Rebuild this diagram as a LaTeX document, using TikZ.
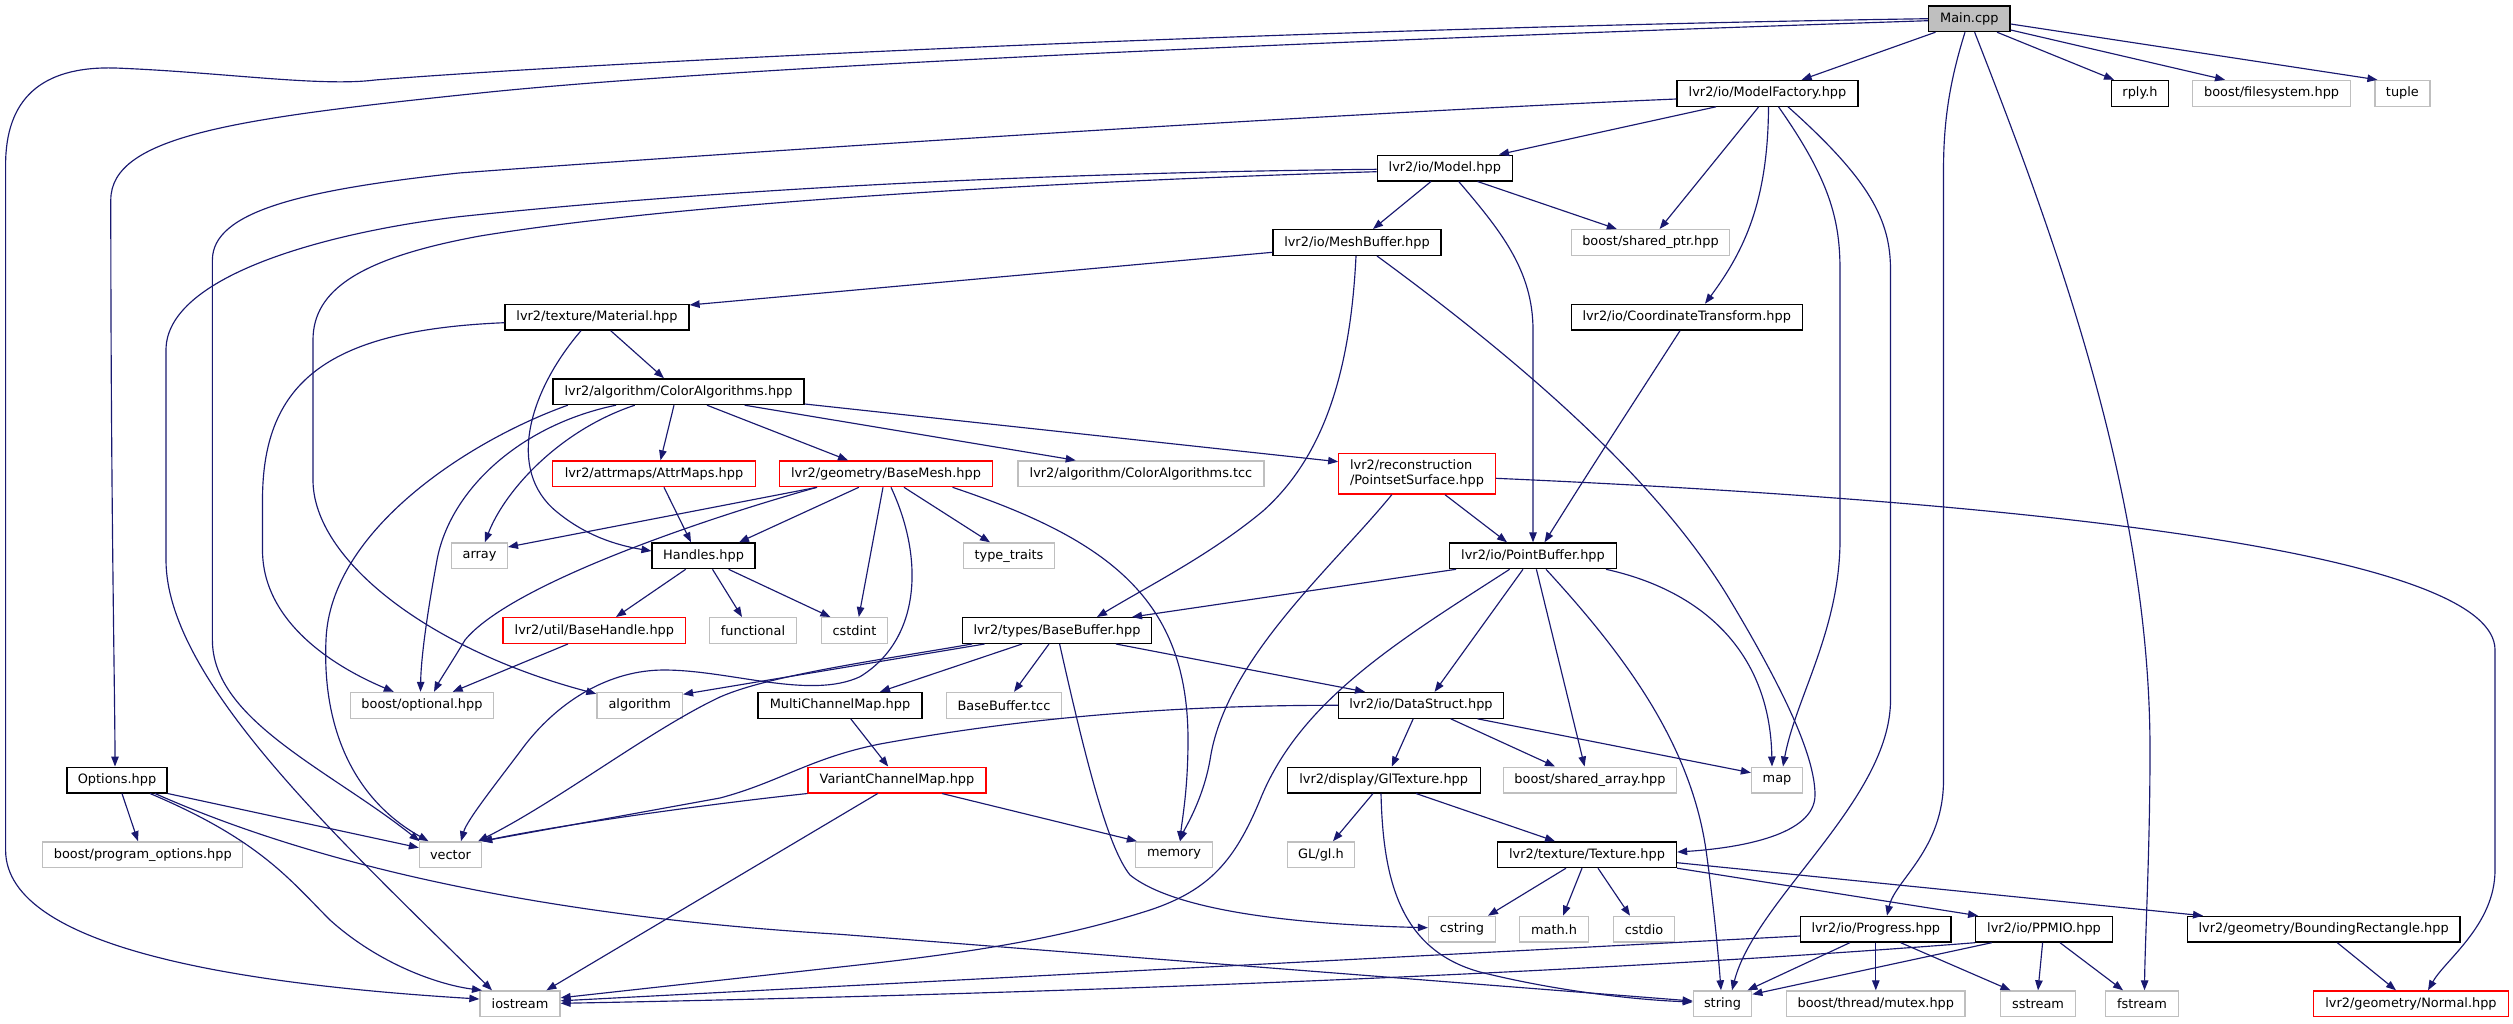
\documentclass[tikz,border=0pt]{standalone}
\usepackage{fontspec}
\setmainfont{DejaVu Sans}
\usetikzlibrary{arrows.meta}
\definecolor{edgeblue}{HTML}{191970}
\definecolor{greyborder}{HTML}{BFBFBF}
\definecolor{mainfill}{HTML}{BFBFBF}
\begin{document}
\begin{tikzpicture}[x=1pt,y=-1pt,
  box/.style={draw=black, line width=1.3pt, fill=white, rectangle, inner sep=0pt,
    minimum height=25.7pt, font=\fontsize{12.9pt}{15pt}\selectfont, text=black},
  ext/.style={box, draw=greyborder},
  trunc/.style={box, draw=red},
  mainbox/.style={box, fill=mainfill},
  dep/.style={draw=edgeblue, line width=1.15pt, -{Triangle[length=10pt,width=7.5pt]}}
]
\fill[white] (0,0) rectangle (2513,1023);
\useasboundingbox (0,0) rectangle (2513,1023);

% ---- nodes ----
\node[mainbox, minimum width=81.5pt] (main) at (1969.3,18.7) {Main.cpp};
\node[box, minimum width=181pt] (mf) at (1767.5,93.3) {lvr2/io/ModelFactory.hpp};
\node[box, minimum width=57pt] (rply) at (2140,93.3) {rply.h};
\node[ext, minimum width=158pt] (fs) at (2271.6,93.3) {boost/filesystem.hpp};
\node[ext, minimum width=55pt] (tuple) at (2402.4,93.3) {tuple};
\node[box, minimum width=135pt] (model) at (1444.8,168) {lvr2/io/Model.hpp};
\node[box, minimum width=168pt] (meshbuf) at (1357,242.5) {lvr2/io/MeshBuffer.hpp};
\node[ext, minimum width=158.6pt] (sptr) at (1650.5,242.5) {boost/shared\_ptr.hpp};
\node[box, minimum width=184pt] (material) at (597,317.2) {lvr2/texture/Material.hpp};
\node[box, minimum width=231pt] (ct) at (1686.7,317.2) {lvr2/io/CoordinateTransform.hpp};
\node[box, minimum width=251pt] (ca) at (678.6,391.7) {lvr2/algorithm/ColorAlgorithms.hpp};
\node[trunc, minimum width=202.5pt] (attr) at (654,473.8) {lvr2/attrmaps/AttrMaps.hpp};
\node[trunc, minimum width=213pt] (basemesh) at (886,473.8) {lvr2/geometry/BaseMesh.hpp};
\node[ext, minimum width=246pt] (catcc) at (1141,473.8) {lvr2/algorithm/ColorAlgorithms.tcc};
\node[trunc, minimum width=156.4pt, minimum height=40.7pt, align=left] (pss) at (1417,473.7) {lvr2/reconstruction\\/PointsetSurface.hpp};
\node[ext, minimum width=55.7pt] (array) at (479.5,555.8) {array};
\node[box, minimum width=103pt] (handles) at (703.6,555.8) {Handles.hpp};
\node[ext, minimum width=91.6pt] (typetraits) at (1009,555.8) {type\_traits};
\node[box, minimum width=166.6pt] (pointbuf) at (1533,555.8) {lvr2/io/PointBuffer.hpp};
\node[trunc, minimum width=182.7pt] (basehandle) at (594.4,630.5) {lvr2/util/BaseHandle.hpp};
\node[ext, minimum width=87.3pt] (functional) at (753,630.5) {functional};
\node[ext, minimum width=66.5pt] (cstdint) at (854.5,630.5) {cstdint};
\node[box, minimum width=189pt] (basebuf) at (1057,630.5) {lvr2/types/BaseBuffer.hpp};
\node[ext, minimum width=142.5pt] (optional) at (422,705.3) {boost/optional.hpp};
\node[ext, minimum width=85.5pt] (algorithm) at (639.7,705.3) {algorithm};
\node[box, minimum width=164pt] (mcm) at (840,705.3) {MultiChannelMap.hpp};
\node[ext, minimum width=114.6pt] (bbtcc) at (1004,705.3) {BaseBuffer.tcc};
\node[box, minimum width=164.5pt] (datastruct) at (1421,705.3) {lvr2/io/DataStruct.hpp};
\node[box, minimum width=100pt] (options) at (117,780) {Options.hpp};
\node[trunc, minimum width=177.8pt] (vcm) at (897,780) {VariantChannelMap.hpp};
\node[box, minimum width=193pt] (gltex) at (1383.7,780) {lvr2/display/GlTexture.hpp};
\node[ext, minimum width=173pt] (sarray) at (1590,780) {boost/shared\_array.hpp};
\node[ext, minimum width=51pt] (map) at (1777,780) {map};
\node[ext, minimum width=200pt] (progopt) at (142.8,854.7) {boost/program\_options.hpp};
\node[ext, minimum width=62pt] (vector) at (450.5,854.7) {vector};
\node[ext, minimum width=77pt] (memory) at (1174,854.7) {memory};
\node[ext, minimum width=67pt] (glh) at (1321,854.7) {GL/gl.h};
\node[box, minimum width=179pt] (texture) at (1587,854.7) {lvr2/texture/Texture.hpp};
\node[ext, minimum width=67pt] (cstring) at (1462,929.2) {cstring};
\node[ext, minimum width=68.6pt] (mathh) at (1554,929.2) {math.h};
\node[ext, minimum width=61.6pt] (cstdio) at (1644,929.2) {cstdio};
\node[box, minimum width=150.5pt] (progress) at (1875.8,929.2) {lvr2/io/Progress.hpp};
\node[box, minimum width=136.6pt] (ppmio) at (2044,929.2) {lvr2/io/PPMIO.hpp};
\node[box, minimum width=272.7pt] (bbox) at (2323.6,929.2) {lvr2/geometry/BoundingRectangle.hpp};
\node[ext, minimum width=80pt] (iostream) at (520,1003.8) {iostream};
\node[ext, minimum width=58.4pt] (string) at (1722.5,1003.8) {string};
\node[ext, minimum width=178.4pt] (mutex) at (1875.8,1003.8) {boost/thread/mutex.hpp};
\node[ext, minimum width=74.5pt] (sstream) at (2038,1003.8) {sstream};
\node[ext, minimum width=72.9pt] (fstream) at (2142,1003.8) {fstream};
\node[trunc, minimum width=195pt] (normal) at (2411,1003.8) {lvr2/geometry/Normal.hpp};

% ---- Main.cpp ----
\draw[dep] ([xshift=-33.8pt]main.south) -- ([xshift=34.1pt]mf.north);
\draw[dep] ([xshift=27.7pt]main.south) -- ([xshift=-26pt]rply.north);
\draw[dep] ([yshift=-11.3pt]main.east) -- ([xshift=-46.6pt]fs.north);
\draw[dep] ([yshift=-5.3pt]main.east) -- ([xshift=-25pt]tuple.north);
\draw[dep] ([yshift=-2pt]main.west) .. controls (1200,45) and (700,70) .. (480,93)
  .. controls (240,118) and (110.8,135) .. (110.8,200) .. controls (110.8,500) and (115,700) .. ([xshift=-2pt]options.north);
\draw[dep] (main.west) .. controls (1300,28) and (600,62) .. (375,80)
  .. controls (320,87) and (220,72) .. (115,68) .. controls (40,66) and (5.6,100) .. (5.6,165)
  -- (5.6,850) .. controls (5.6,950) and (250,985) .. ([yshift=4.8pt]iostream.west);
\draw[dep] ([xshift=-4.3pt]main.south) .. controls (1950,80) and (1943.5,120) .. (1943.5,170)
  -- (1943.5,780) .. controls (1943.5,850) and (1895,880) .. ([xshift=11.2pt]progress.north);
\draw[dep] ([xshift=5.3pt]main.south) .. controls (2060,250) and (2150,500) .. (2150,750)
  .. controls (2150,850) and (2145,940) .. ([xshift=2.5pt]fstream.north);

% ---- ModelFactory ----
\draw[dep] ([xshift=-51.5pt]mf.south) -- ([xshift=54.2pt]model.north);
\draw[dep] ([yshift=-5.7pt]mf.west) .. controls (1300,115) and (700,155) .. (459,173)
  .. controls (300,190) and (212.4,212) .. (212.4,260) -- (212.4,640)
  .. controls (212.4,720) and (330,770) .. ([xshift=-31pt]vector.north);
\draw[dep] ([xshift=-8.8pt]mf.south) -- ([xshift=9.1pt]sptr.north);
\draw[dep] ([xshift=1pt]mf.south) .. controls (1768,200) and (1745,250) .. ([xshift=18.3pt]ct.north);
\draw[dep] ([xshift=11pt]mf.south) .. controls (1830,180) and (1840,220) .. (1840,270)
  -- (1840,540) .. controls (1840,630) and (1795,700) .. ([xshift=6pt]map.north);
\draw[dep] ([xshift=20.5pt]mf.south) .. controls (1870,180) and (1890.5,220) .. (1890.5,270)
  -- (1890.5,700) .. controls (1890.5,800) and (1755,900) .. ([xshift=9.5pt]string.north);

% ---- Model ----
\draw[dep] ([xshift=-13.8pt]model.south) -- ([xshift=16pt]meshbuf.north);
\draw[dep] ([xshift=32.7pt]model.south) -- ([xshift=-33.7pt]sptr.north);
\draw[dep] ([xshift=13.9pt]model.south) .. controls (1500,230) and (1533,270) .. (1533,330) -- (pointbuf.north);
\draw[dep] ([yshift=-1.3pt]model.west) .. controls (1100,172) and (760,185) .. (459,216.7)
  .. controls (330,232) and (166,275) .. (166,350) -- (166,560)
  .. controls (166,680) and (340,840) .. ([xshift=-28pt]iostream.north);
\draw[dep] ([yshift=-3.7pt]model.west) .. controls (1100,180) and (700,200) .. (480,236)
  .. controls (360,258) and (313,290) .. (313,340) -- (313,480)
  .. controls (313,560) and (430,650) .. ([yshift=-2pt]algorithm.north west);

% ---- MeshBuffer ----
\draw[dep] ([yshift=-9.8pt]meshbuf.west) -- ([yshift=12.2pt]material.east);
\draw[dep] ([xshift=-1pt]meshbuf.south) .. controls (1350,380) and (1320,460) .. (1263,511)
  .. controls (1210,555) and (1150,585) .. ([xshift=40pt]basebuf.north);
\draw[dep] ([xshift=20pt]meshbuf.south) .. controls (1560,390) and (1670,500) .. (1730,600)
  .. controls (1790,700) and (1815,760) .. (1815,795) .. controls (1815,835) and (1740,848) .. ([yshift=2.7pt]texture.east);

% ---- Material ----
\draw[dep] ([xshift=13.7pt]material.south) -- ([xshift=-14.6pt]ca.north);
\draw[dep] ([xshift=-16pt]material.south) .. controls (530,390) and (505,470) .. (557,512)
  .. controls (585,535) and (615,545) .. ([yshift=4.8pt]handles.west);
\draw[dep] ([yshift=-5.5pt]material.west) .. controls (330,330) and (262.5,380) .. (262.5,500)
  -- (262.5,550) .. controls (262.5,620) and (330,665) .. ([xshift=-28.2pt]optional.north);

% ---- ColorAlgorithms ----
\draw[dep] ([xshift=-110.8pt]ca.south) .. controls (470,440) and (330,530) .. (326,640)
  .. controls (322,730) and (355,800) .. ([xshift=-22pt]vector.north);
\draw[dep] ([xshift=-62.6pt]ca.south) .. controls (520,425) and (450,490) .. (437,560)
  .. controls (426,620) and (421,660) .. ([xshift=-1.5pt]optional.north);
\draw[dep] ([xshift=-43.8pt]ca.south) .. controls (560,430) and (505,490) .. ([xshift=5.3pt]array.north);
\draw[dep] ([xshift=-4.6pt]ca.south) -- ([xshift=6.5pt]attr.north);
\draw[dep] ([xshift=28.4pt]ca.south) -- ([xshift=-38pt]basemesh.north);
\draw[dep] ([xshift=66pt]ca.south) -- ([xshift=-65.3pt]catcc.north);
\draw[dep] ([yshift=-12.3pt]ca.east) -- ([yshift=12pt]pss.west);

% ---- BaseMesh ----
\draw[dep] ([xshift=-69pt]basemesh.south) -- ([yshift=8.8pt]array.east);
\draw[dep] ([xshift=-69pt]basemesh.south) .. controls (700,520) and (510,585) .. (465,640)
  .. controls (450,665) and (440,680) .. ([xshift=12pt]optional.north);
\draw[dep] ([xshift=-27.2pt]basemesh.south) -- ([xshift=35.4pt]handles.north);
\draw[dep] ([xshift=-3pt]basemesh.south) -- ([xshift=4.3pt]cstdint.north);
\draw[dep] ([xshift=5pt]basemesh.south) .. controls (925,560) and (920,640) .. (860,676.7)
  .. controls (810,700) and (730,670) .. (664,670) .. controls (610,670) and (560,700) .. (525,745)
  .. controls (495,785) and (467,820) .. ([xshift=10.5pt]vector.north);
\draw[dep] ([xshift=18pt]basemesh.south) -- ([xshift=-19pt]typetraits.north);
\draw[dep] ([xshift=66.5pt]basemesh.south) .. controls (1110,540) and (1188,600) .. (1188,740)
  .. controls (1188,790) and (1182,820) .. ([xshift=6pt]memory.north);

% ---- AttrMaps / Handles / BaseHandle ----
\draw[dep] ([xshift=10pt]attr.south) -- ([xshift=-12.6pt]handles.north);
\draw[dep] ([xshift=-17.9pt]handles.south) -- ([xshift=21.6pt]basehandle.north);
\draw[dep] ([xshift=8.9pt]handles.south) -- ([xshift=-11pt]functional.north);
\draw[dep] ([xshift=25pt]handles.south) -- ([xshift=-24.1pt]cstdint.north);
\draw[dep] ([xshift=-26.5pt]basehandle.south) -- ([xshift=30.7pt]optional.north);

% ---- PointsetSurface ----
\draw[dep] ([xshift=28pt]pss.south) -- ([xshift=-26pt]pointbuf.north);
\draw[dep] ([xshift=-25.2pt]pss.south) .. controls (1330,570) and (1225,660) .. (1210,760)
  .. controls (1203,800) and (1184,830) .. ([xshift=6pt]memory.north);
\draw[dep] ([yshift=-4.6pt]pss.east) .. controls (2100,505) and (2495,560) .. (2495,650)
  -- (2495,870) .. controls (2495,925) and (2445,960) .. ([xshift=17pt]normal.north);

% ---- CoordinateTransform ----
\draw[dep] ([xshift=-6.7pt]ct.south) .. controls (1590,470) .. ([xshift=11.5pt]pointbuf.north);

% ---- PointBuffer ----
\draw[dep] ([xshift=-77pt]pointbuf.south) -- ([xshift=75pt]basebuf.north);
\draw[dep] ([xshift=-23.4pt]pointbuf.south) .. controls (1400,640) and (1300,700) .. (1260,800)
  .. controls (1235,860) and (1210,890) .. (1150,910) .. controls (1050,942) and (950,955) .. (840,967)
  -- ([yshift=6pt]iostream.east);
\draw[dep] ([xshift=-10pt]pointbuf.south) -- ([xshift=13.6pt]datastruct.north);
\draw[dep] ([xshift=3.4pt]pointbuf.south) -- ([xshift=-5.4pt]sarray.north);
\draw[dep] ([xshift=13pt]pointbuf.south) .. controls (1620,650) and (1690,740) .. (1706,850)
  .. controls (1713,900) and (1718,950) .. ([xshift=-1.5pt]string.north);
\draw[dep] ([xshift=73pt]pointbuf.south) .. controls (1700,590) and (1770,650) .. ([xshift=-5pt]map.north);

% ---- BaseBuffer ----
\draw[dep] ([xshift=-72.4pt]basebuf.south) -- ([yshift=11pt]algorithm.east);
\draw[dep] ([xshift=-85pt]basebuf.south) .. controls (880,660) and (770,675) .. (720,697)
  .. controls (650,730) and (560,800) .. ([xshift=-4pt]vector.north east);
\draw[dep] ([xshift=-35pt]basebuf.south) -- ([xshift=40pt]mcm.north);
\draw[dep] ([xshift=-8pt]basebuf.south) -- ([xshift=10pt]bbtcc.north);
\draw[dep] ([xshift=59pt]basebuf.south) -- ([xshift=-56pt]datastruct.north);
\draw[dep] ([xshift=2.6pt]basebuf.south) .. controls (1090,780) and (1110,850) .. (1130,875)
  .. controls (1180,915) and (1320,925) .. ([yshift=1.5pt]cstring.west);

% ---- MultiChannelMap / VariantChannelMap ----
\draw[dep] ([xshift=10.7pt]mcm.south) -- ([xshift=-8.8pt]vcm.north);
\draw[dep] (vcm.south west) .. controls (700,805) and (560,825) .. (vector.north east);
\draw[dep] ([xshift=45pt]vcm.south) -- ([xshift=2pt]memory.north west);
\draw[dep] ([xshift=-19.3pt]vcm.south) -- ([xshift=26.4pt]iostream.north);

% ---- DataStruct ----
\draw[dep] (datastruct.west) .. controls (1150,705) and (1000,722) .. (880,744)
  .. controls (810,758) and (780,782) .. (720,798) -- (vector.north east);
\draw[dep] ([xshift=-7.8pt]datastruct.south) -- ([xshift=8.1pt]gltex.north);
\draw[dep] ([xshift=29.7pt]datastruct.south) -- ([xshift=-35pt]sarray.north);
\draw[dep] ([xshift=56.5pt]datastruct.south) -- ([yshift=7.3pt]map.west);

% ---- GlTexture ----
\draw[dep] ([xshift=-10.7pt]gltex.south) -- ([xshift=12pt]glh.north);
\draw[dep] ([xshift=32.3pt]gltex.south) -- ([xshift=-32pt]texture.north);
\draw[dep] ([xshift=-2.7pt]gltex.south) .. controls (1383,880) and (1400,950) .. (1480,972)
  .. controls (1560,992) and (1640,1000) .. ([yshift=1.8pt]string.west);

% ---- Texture ----
\draw[dep] ([xshift=-21pt]texture.south) -- ([xshift=26pt]cstring.north);
\draw[dep] ([xshift=-5pt]texture.south) -- ([xshift=9pt]mathh.north);
\draw[dep] ([xshift=11pt]texture.south) -- ([xshift=-14pt]cstdio.north);
\draw[dep] (texture.south east) -- ([xshift=3pt]ppmio.north west);
\draw[dep] ([yshift=-8pt]texture.east) -- ([xshift=-120.6pt]bbox.north);

% ---- Progress / PPMIO / BoundingRectangle ----
\draw[dep] ([yshift=-6.8pt]progress.west) -- ([yshift=3pt]iostream.east);
\draw[dep] ([xshift=-26pt]progress.south) -- ([xshift=25pt]string.north);
\draw[dep] (progress.south) -- (mutex.north);
\draw[dep] ([xshift=24.9pt]progress.south) -- ([xshift=-27.5pt]sstream.north);
\draw[dep] (ppmio.south west) .. controls (1500,980) and (900,997) .. ([yshift=0.5pt]iostream.east);
\draw[dep] ([xshift=-52.3pt]ppmio.south) -- ([yshift=9.5pt]string.east);
\draw[dep] ([xshift=-1.4pt]ppmio.south) -- (sstream.north);
\draw[dep] ([xshift=16pt]ppmio.south) -- ([xshift=-19pt]fstream.north);
\draw[dep] ([xshift=13.7pt]bbox.south) -- ([xshift=-15pt]normal.north);

% ---- Options ----
\draw[dep] ([xshift=5pt]options.south) -- ([xshift=-4.8pt]progopt.north);
\draw[dep] (options.south east) -- ([yshift=7pt]vector.west);
\draw[dep] ([xshift=33pt]options.south) .. controls (260,840) and (290,880) .. (330,920)
  .. controls (380,965) and (440,985) .. ([xshift=-38pt]iostream.north);
\draw[dep] ([xshift=38pt]options.south) .. controls (350,880) and (600,920) .. (840,934.3)
  -- ([yshift=2.8pt]string.west);
\end{tikzpicture}
\end{document}
